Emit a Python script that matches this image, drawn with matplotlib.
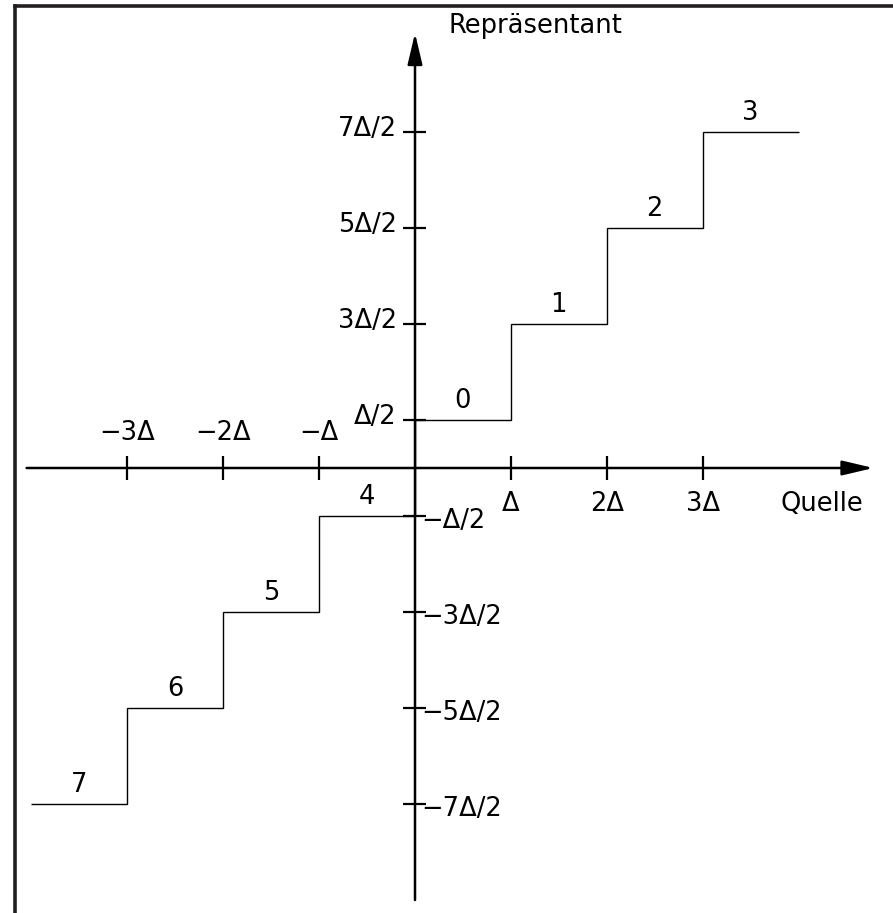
import matplotlib
matplotlib.use("Agg")
import matplotlib.pyplot as plt
from matplotlib.lines import Line2D

plt.rcParams["font.family"] = ["DejaVu Sans"]

# step edges and representative levels (in units of Delta)
edges = [-4, -3, -2, -1, 0, 1, 2, 3, 4]
levels = [-3.5, -2.5, -1.5, -0.5, 0.5, 1.5, 2.5, 3.5]
step_labels = ["7", "6", "5", "4", "0", "1", "2", "3"]

x_ticks = [-3, -2, -1, 1, 2, 3]
x_ticklabels = ["−3Δ", "−2Δ", "−Δ", "Δ", "2Δ", "3Δ"]
y_ticks = [3.5, 2.5, 1.5, 0.5, -0.5, -1.5, -2.5, -3.5]
y_ticklabels = ["7Δ/2", "5Δ/2", "3Δ/2", "Δ/2", "−Δ/2", "−3Δ/2", "−5Δ/2", "−7Δ/2"]

W, H = 893, 913
x0, y0 = 415, 468      # origin in pixels
sx, sy = 95.9, 96.0    # pixels per Delta
FS = 18.5

fig = plt.figure(figsize=(W / 100, H / 100), dpi=100)
ax = fig.add_axes([0, 0, 1, 1])
ax.set_xlim(-x0 / sx, (W - x0) / sx)
ax.set_ylim((y0 - H) / sy, y0 / sy)
ax.axis("off")

# staircase
ax.stairs(levels, edges, baseline=None, color="black", lw=1.0)
for i, lab in enumerate(step_labels):
    xc = (edges[i] + edges[i + 1]) / 2
    ax.text(xc, levels[i] + 0.2, lab, ha="center", va="center", fontsize=FS)

# axes with arrows
arrow = dict(arrowstyle="-|>,head_length=1.9,head_width=0.45", lw=1.8,
             color="black", shrinkA=0, shrinkB=0, mutation_scale=10)
ax.annotate("", xy=(4.78, 0), xytext=(-4.05, 0), arrowprops=arrow)
ax.annotate("", xy=(0, 4.53), xytext=(0, -4.5), arrowprops=arrow)

# ticks
ax.vlines(x_ticks, -0.12, 0.12, color="black", lw=1.6)
ax.hlines(y_ticks, -0.13, 0.11, color="black", lw=1.6)

for t, lab in zip(x_ticks, x_ticklabels):
    if t < 0:
        ax.text(t, 0.36, lab, ha="center", va="center", fontsize=FS)
    else:
        ax.text(t, -0.37, lab, ha="center", va="center", fontsize=FS)

for t, lab in zip(y_ticks, y_ticklabels):
    if t > 0:
        ax.text(-0.19, t + 0.03, lab, ha="right", va="center", fontsize=FS)
    else:
        ax.text(0.07, t - 0.05, lab, ha="left", va="center", fontsize=FS)

ax.text(1.26, 4.6, "Repräsentant", ha="center", va="center", fontsize=FS)
ax.text(4.24, -0.37, "Quelle", ha="center", va="center", fontsize=FS)

# frame (top and left only)
fig.add_artist(Line2D([14.5 / W, 1], [1 - 6.5 / H] * 2, lw=2.6, color="#231f20"))
fig.add_artist(Line2D([14.5 / W] * 2, [0, 1 - 6.5 / H], lw=2.6, color="#231f20"))

fig.savefig("out.png", dpi=100)
